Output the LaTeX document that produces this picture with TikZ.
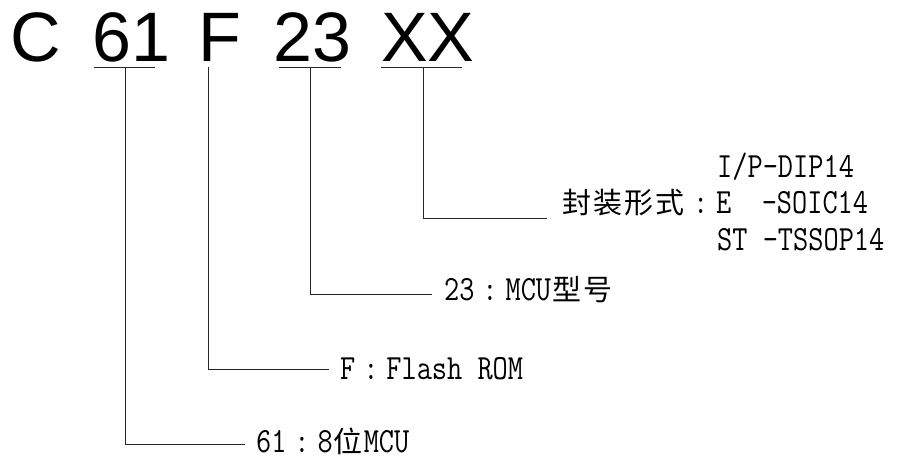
\documentclass[tikz,border=0pt]{standalone}
\usepackage{fontspec}
\usepackage{graphicx}
\setmainfont{Liberation Sans}
\newfontfamily\cjkf{Noto Sans CJK SC}
\newcommand{\lat}[1]{\scalebox{1}[1.2]{\ttfamily\fontsize{29.5}{32}\selectfont #1}}
\newcommand{\han}[1]{\makebox[31pt]{\cjkf\fontsize{29}{32}\selectfont #1}}
\newcommand{\fcolon}{\makebox[31pt]{\lat{:}}}
\tikzset{
  big/.style={font=\fontsize{70}{80}\selectfont, inner sep=0pt, anchor=base west},
  lab/.style={inner sep=0pt, anchor=base west},
  ln/.style={line width=1pt, draw=black!85},
}
\begin{document}
\begin{tikzpicture}[x=1pt,y=-1pt]
\useasboundingbox (0,0) rectangle (899,461);
% top code
\node[big] (tC)  at (10,61) {C};
\node[big] (t61) at (92,61) {61};
\node[big] (tF)  at (198,61) {F};
\node[big] (t23) at (273,61) {23};
\node[big] (tXX) at (381,61) {XX};
% underlines
\coordinate (u61a) at (94,67);  \coordinate (u61b) at (155,67);
\coordinate (u23a) at (279,67); \coordinate (u23b) at (341,67);
\coordinate (uXXa) at (381,67); \coordinate (uXXb) at (462,67);
\draw[ln] (u61a) -- (u61b);
\draw[ln] (u23a) -- (u23b);
\draw[ln] (uXXa) -- (uXXb);
% labels
\node[lab] (l61) at (256,452) {\lat{61}\fcolon\lat{8}\han{位}\lat{MCU}};
\node[lab] (lF)  at (340,379) {\lat{F}\fcolon\lat{Flash ROM}};
\node[lab] (l23) at (444,300) {\lat{23}\fcolon\lat{MCU}\han{型}\han{号}};
\node[lab] (lpk) at (561,213) {\han{封}\han{装}\han{形}\han{式}\fcolon\lat{E\ \ -SOIC14}};
\node[lab] (lp1) at (717,177) {\lat{I/P-DIP14}};
\node[lab] (lp3) at (717,250) {\lat{ST -TSSOP14}};
% connector ends
\coordinate (s61) at (125,67);  \coordinate (e61) at (245,444);
\coordinate (sF)  at (208,67);  \coordinate (eF)  at (329,369);
\coordinate (s23) at (310,67);  \coordinate (e23) at (432,294);
\coordinate (sXX) at (423,67);  \coordinate (eXX) at (547,218);
\draw[ln] (s61) |- (e61);
\draw[ln] (sF)  |- (eF);
\draw[ln] (s23) |- (e23);
\draw[ln] (sXX) |- (eXX);
\end{tikzpicture}
\end{document}
